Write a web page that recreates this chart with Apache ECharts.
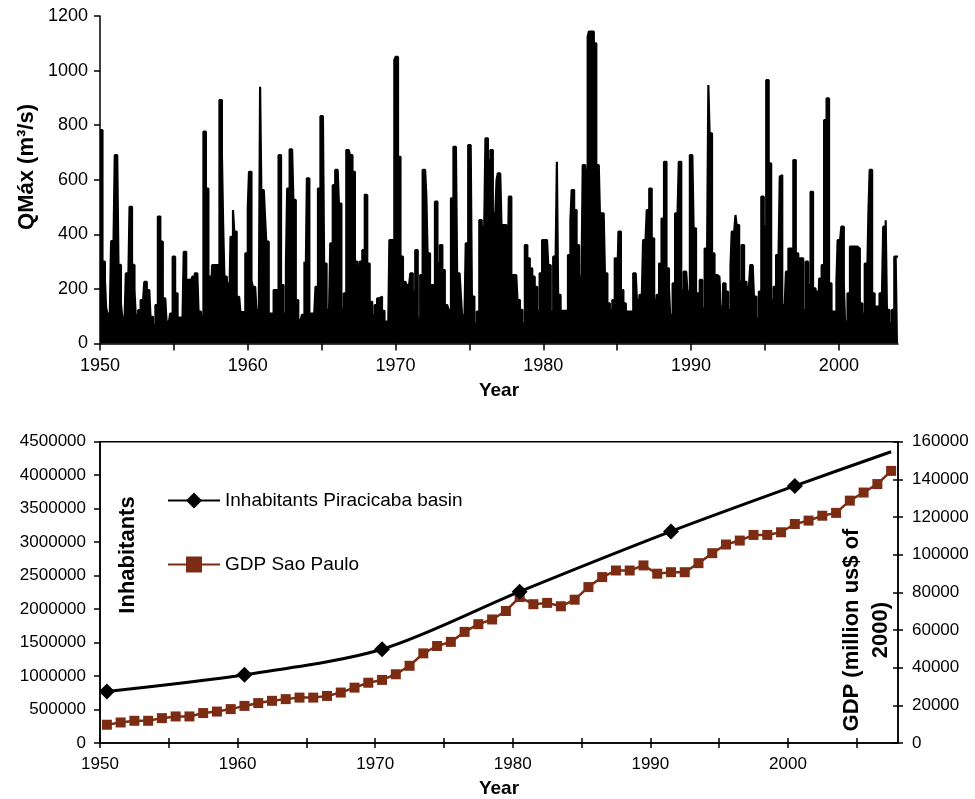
<!DOCTYPE html>
<html><head><meta charset="utf-8">
<script src="https://cdn.jsdelivr.net/npm/echarts@6/dist/echarts.min.js"></script>
<style>html,body{margin:0;padding:0;background:#fff}#c{width:975px;height:799px}</style>
</head><body><div id="c"></div>
<script>
// ---------- Top panel: monthly maximum discharge (m3/s), Jan 1950 .. Dec 2003 ----------
const qStartYear = 1950;
const qmaxMonthly = [
  782, 782, 300, 300, 230, 130, 110, 110, 110, 375, 375, 375,   // 1950
  690, 690, 680, 288, 288, 147, 98, 98, 98, 257, 257, 233,      // 1951
  501, 501, 288, 288, 196, 104, 104, 122, 122, 159, 159, 159,   // 1952
  226, 226, 196, 196, 196, 98, 98, 68, 68, 141, 141, 465,       // 1953
  465, 373, 373, 165, 165, 165, 80, 80, 80, 110, 110, 318,      // 1954
  318, 184, 184, 95, 95, 92, 92, 92, 336, 336, 233, 233,        // 1955
  233, 233, 233, 245, 245, 257, 257, 257, 117, 117, 100, 100,   // 1956
  776, 776, 568, 568, 245, 245, 147, 287, 287, 287, 287, 287,   // 1957
  287, 892, 892, 690, 434, 245, 245, 220, 220, 150, 391, 391,   // 1958
  489, 410, 410, 171, 171, 171, 115, 115, 115, 115, 330, 330,   // 1959
  495, 629, 629, 232, 208, 208, 208, 123, 123, 150, 941, 562,   // 1960
  562, 562, 465, 373, 373, 110, 110, 110, 110, 196, 196, 196,   // 1961
  196, 690, 690, 214, 214, 110, 110, 293, 568, 568, 711, 711,   // 1962
  711, 526, 526, 159, 159, 86, 86, 86, 105, 105, 300, 220,      // 1963
  605, 605, 110, 110, 110, 110, 110, 208, 208, 568, 568, 833,   // 1964
  833, 833, 293, 293, 123, 123, 123, 367, 367, 580, 580, 636,   // 1965
  636, 636, 513, 513, 128, 128, 184, 184, 709, 709, 709, 690,   // 1966
  690, 629, 629, 300, 300, 300, 123, 300, 300, 342, 342, 546,   // 1967
  544, 293, 293, 153, 153, 104, 104, 141, 141, 165, 165, 172,   // 1968
  172, 120, 120, 80, 80, 80, 43, 379, 379, 379, 379, 1038,      // 1969
  1050, 1050, 684, 684, 318, 318, 226, 226, 226, 214, 214, 214, // 1970
  257, 257, 190, 190, 342, 342, 92, 92, 251, 251, 636, 636,     // 1971
  636, 538, 330, 330, 214, 214, 214, 214, 520, 520, 293, 293,   // 1972
  361, 361, 269, 269, 141, 141, 141, 123, 123, 532, 532, 721,   // 1973
  721, 721, 257, 257, 257, 178, 104, 104, 104, 367, 367, 727,   // 1974
  727, 727, 172, 172, 74, 74, 117, 117, 452, 452, 428, 428,     // 1975
  428, 752, 752, 672, 672, 709, 709, 477, 477, 477, 599, 623,   // 1976
  623, 623, 434, 434, 434, 434, 208, 245, 538, 538, 251, 251,   // 1977
  251, 251, 251, 159, 159, 123, 123, 74, 74, 361, 361, 312,     // 1978
  312, 275, 275, 245, 245, 208, 208, 117, 117, 257, 257, 379,   // 1979
  379, 379, 379, 379, 287, 287, 117, 117, 318, 318, 318, 666,   // 1980
  178, 178, 120, 120, 120, 120, 120, 120, 324, 324, 452, 562,   // 1981
  562, 489, 489, 361, 361, 245, 245, 245, 654, 654, 636, 636,   // 1982
  1124, 1143, 1143, 1143, 1143, 1100, 1100, 654, 654, 654, 465, 477, // 1983
  477, 477, 257, 257, 147, 147, 123, 123, 159, 159, 312, 312,   // 1984
  202, 410, 410, 196, 196, 147, 147, 117, 117, 117, 117, 117,   // 1985
  117, 257, 257, 257, 159, 159, 178, 178, 178, 379, 379, 379,   // 1986
  489, 489, 568, 568, 385, 385, 159, 159, 178, 178, 293, 293,   // 1987
  458, 458, 666, 666, 275, 275, 202, 104, 104, 220, 220, 477,   // 1988
  477, 477, 666, 666, 196, 196, 263, 263, 263, 190, 190, 690,   // 1989
  690, 690, 422, 422, 123, 184, 184, 233, 233, 129, 129, 348,   // 1990
  348, 348, 947, 770, 770, 330, 330, 251, 251, 251, 245, 245,   // 1991
  135, 135, 220, 220, 190, 190, 123, 123, 287, 410, 410, 410,   // 1992
  471, 434, 434, 226, 226, 361, 361, 226, 226, 208, 208, 208,   // 1993
  287, 287, 287, 172, 172, 92, 92, 190, 190, 538, 538, 428,     // 1994
  428, 965, 965, 660, 660, 159, 159, 208, 208, 324, 324, 324,   // 1995
  611, 617, 141, 141, 141, 263, 263, 348, 348, 348, 348, 672,   // 1996
  672, 330, 330, 312, 312, 312, 312, 123, 123, 300, 300, 214,   // 1997
  214, 556, 556, 202, 202, 190, 190, 80, 238, 238, 287, 287,    // 1998
  819, 819, 898, 898, 220, 220, 117, 117, 117, 117, 226, 379,   // 1999
  379, 379, 428, 428, 220, 80, 80, 184, 184, 355, 355, 355,     // 2000
  355, 355, 355, 348, 348, 147, 147, 110, 110, 293, 293, 245,   // 2001
  483, 636, 636, 184, 184, 135, 135, 135, 135, 184, 184, 184,   // 2002
  428, 428, 452, 123, 123, 74, 74, 123, 123, 318, 318, 318      // 2003
];
const qTickYears = [1950, 1955, 1960, 1965, 1970, 1975, 1980, 1985, 1990, 1995, 2000];
const qLabelYears = [1950, 1960, 1970, 1980, 1990, 2000];

// ---------- Bottom panel ----------
const popYears = [1950, 1960, 1970, 1980, 1991, 2000, 2007];
const popValues = [770000, 1020000, 1400000, 2260000, 3160000, 3840000, 4350000];
const gdpYears = [1950,1951,1952,1953,1954,1955,1956,1957,1958,1959,
                  1960,1961,1962,1963,1964,1965,1966,1967,1968,1969,
                  1970,1971,1972,1973,1974,1975,1976,1977,1978,1979,
                  1980,1981,1982,1983,1984,1985,1986,1987,1988,1989,
                  1990,1991,1992,1993,1994,1995,1996,1997,1998,1999,
                  2000,2001,2002,2003,2004,2005,2006,2007];
const gdpValues = [9700,10900,11800,11800,13200,14100,14100,15900,16700,18000,
                   19700,21200,22400,23300,24100,24100,25000,26800,29400,32000,
                   33500,36500,41000,47600,51500,53700,59000,63100,65600,70100,
                   77500,73700,74400,72600,76100,82800,88100,91600,91600,94300,
                   89900,90700,90700,95500,100800,105400,107500,110500,110500,111900,
                   116300,118100,120700,122200,128700,133000,137500,144500];
const bTickYears = [1950, 1955, 1960, 1965, 1970, 1975, 1980, 1985, 1990, 1995, 2000, 2005];
const bLabelYears = [1950, 1960, 1970, 1980, 1990, 2000];

const FONT = "'Liberation Sans', Arial, Helvetica, sans-serif";
const BLACK = '#000';
const BROWN = '#7b2c12';

// step data for the discharge series (each month spans its own interval)
const qData = qmaxMonthly.map((v, i) => [qStartYear + i / 12, v]);
qData.push([qStartYear + qmaxMonthly.length / 12, qmaxMonthly[qmaxMonthly.length - 1]]);

const popData = popYears.map((y, i) => (i === popYears.length - 1)
  ? { value: [y + 0.5, popValues[i]], symbol: 'none' }
  : [y + 0.5, popValues[i]]);
const gdpData = gdpYears.map((y, i) => [y + 0.5, gdpValues[i]]);

const axisLineStyle = { color: BLACK, width: 1.5 };
const plain = v => String(Math.round(v));
const labelStyle = (size, margin) => ({ fontSize: size, color: BLACK, fontFamily: FONT, margin: margin, formatter: plain });

const chart = echarts.init(document.getElementById('c'), null, { renderer: 'canvas' });
chart.setOption({
  animation: false,
  backgroundColor: '#fff',
  grid: [
    { left: 100, top: 16, width: 798, height: 327.5, show: false },
    { left: 100, top: 441.7, width: 798, height: 301.6, show: true, borderColor: BLACK, borderWidth: 1.5, backgroundColor: 'transparent' }
  ],
  xAxis: [
    { gridIndex: 0, type: 'value', min: 1950, max: 2004,
      axisLine: { lineStyle: axisLineStyle },
      axisTick: { length: 7, lineStyle: axisLineStyle, customValues: qTickYears },
      axisLabel: Object.assign(labelStyle(18, 14), { customValues: qLabelYears }),
      splitLine: { show: false },
      name: 'Year', nameLocation: 'middle', nameGap: 38,
      nameTextStyle: { fontSize: 19, fontWeight: 'bold', color: BLACK, fontFamily: FONT } },
    { gridIndex: 1, type: 'value', min: 1950, max: 2008,
      axisLine: { lineStyle: axisLineStyle },
      axisTick: { length: 5, lineStyle: axisLineStyle, customValues: bTickYears },
      axisLabel: Object.assign(labelStyle(17, 13), { customValues: bLabelYears }),
      splitLine: { show: false },
      name: 'Year', nameLocation: 'middle', nameGap: 36,
      nameTextStyle: { fontSize: 19, fontWeight: 'bold', color: BLACK, fontFamily: FONT } },
    { gridIndex: 1, type: 'value', min: 1950, max: 2008, position: 'bottom',
      axisLine: { show: false },
      axisTick: { inside: true, length: 5, lineStyle: axisLineStyle, customValues: bTickYears },
      axisLabel: { show: false }, splitLine: { show: false } }
  ],
  yAxis: [
    { gridIndex: 0, type: 'value', min: 0, max: 1200, interval: 200,
      axisLine: { show: true, lineStyle: axisLineStyle },
      axisTick: { show: true, length: 6, lineStyle: axisLineStyle },
      axisLabel: labelStyle(18, 12),
      splitLine: { show: false } },
    { gridIndex: 1, type: 'value', min: 0, max: 4500000, interval: 500000,
      axisLine: { show: true, lineStyle: axisLineStyle },
      axisTick: { show: true, length: 6, lineStyle: axisLineStyle },
      axisLabel: labelStyle(17, 14),
      splitLine: { show: false } },
    { gridIndex: 1, type: 'value', min: 0, max: 160000, interval: 20000, position: 'right',
      axisLine: { show: true, lineStyle: axisLineStyle },
      axisTick: { show: true, length: 5, lineStyle: axisLineStyle },
      axisLabel: labelStyle(17, 14),
      splitLine: { show: false } },
    { gridIndex: 1, type: 'value', min: 0, max: 160000, interval: 20000, position: 'right',
      axisLine: { show: false },
      axisTick: { show: true, inside: true, length: 5, lineStyle: axisLineStyle },
      axisLabel: { show: false }, splitLine: { show: false } }
  ],
  legend: {
    left: 162, top: 486, orient: 'vertical',
    itemWidth: 52, itemHeight: 20, itemGap: 45,
    textStyle: { fontSize: 19, color: BLACK, fontFamily: FONT },
    data: ['Inhabitants Piracicaba basin', 'GDP Sao Paulo']
  },
  graphic: [
    { type: 'text', x: 27, y: 167, rotation: Math.PI / 2,
      style: { text: 'QMáx (m³/s)', fontSize: 22, fontWeight: 'bold', fontFamily: FONT, fill: BLACK, align: 'center', verticalAlign: 'middle' } },
    { type: 'text', x: 128, y: 555, rotation: Math.PI / 2,
      style: { text: 'Inhabitants', fontSize: 22, fontWeight: 'bold', fontFamily: FONT, fill: BLACK, align: 'center', verticalAlign: 'middle' } },
    { type: 'text', x: 866, y: 630, rotation: Math.PI / 2,
      style: { text: 'GDP (million us$ of\n2000)', fontSize: 22, fontWeight: 'bold', fontFamily: FONT, fill: BLACK, align: 'center', verticalAlign: 'middle', lineHeight: 29 } }
  ],
  series: [
    { name: 'QMax', type: 'line', xAxisIndex: 0, yAxisIndex: 0, step: 'end',
      data: qData, symbol: 'none', lineStyle: { color: BLACK, width: 2.2 },
      areaStyle: { color: BLACK, opacity: 1 }, itemStyle: { color: BLACK } },
    { name: 'GDP Sao Paulo', type: 'line', xAxisIndex: 1, yAxisIndex: 2,
      data: gdpData, symbol: 'rect', symbolSize: 10,
      lineStyle: { color: BROWN, width: 2.5 }, itemStyle: { color: BROWN } },
    { name: 'Inhabitants Piracicaba basin', type: 'line', xAxisIndex: 1, yAxisIndex: 1,
      data: popData, symbol: 'diamond', symbolSize: 16, smooth: 0.3,
      lineStyle: { color: BLACK, width: 3 }, itemStyle: { color: BLACK } }
  ]
});
</script>
</body></html>
